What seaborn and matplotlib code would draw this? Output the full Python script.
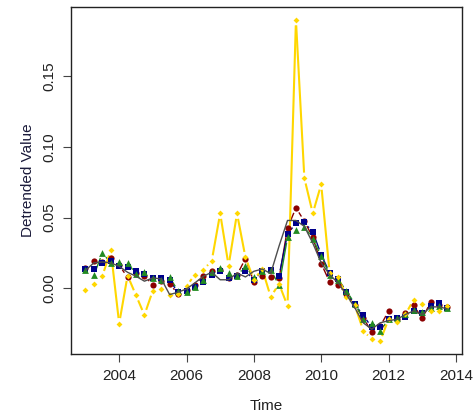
import numpy as np
import pandas as pd
import matplotlib
matplotlib.use("Agg")
import matplotlib.pyplot as plt
from matplotlib.collections import LineCollection
import seaborn as sns

# Quarterly time index, 2003 Q1 .. 2013 Q4
time = np.arange(2003.0, 2014.0, 0.25)

series_yellow = [-0.001, 0.003, 0.0085, 0.027, -0.025, 0.009, -0.005, -0.019, -0.0016, -0.0002,
                 -0.005, -0.004, 0.0015, 0.0097, 0.013, 0.0195, 0.053, 0.016, 0.053, 0.0219,
                 0.006, 0.0136, -0.006, 0.003, -0.0125, 0.19, 0.078, 0.053, 0.0736, 0.011,
                 0.008, -0.006, -0.0122, -0.030, -0.0362, -0.0375, -0.022, -0.024, -0.0185, -0.008,
                 -0.011, -0.0162, -0.016, -0.0125]
series_red = [0.0144, 0.019, 0.0183, 0.0214, 0.0162, 0.0078, 0.011, 0.009, 0.0021, 0.0054,
              0.003, -0.004, -0.001, 0.0025, 0.009, 0.0125, 0.013, 0.0073, 0.0094, 0.021,
              0.0045, 0.0085, 0.0078, 0.007, 0.0426, 0.057, 0.0475, 0.036, 0.0175, 0.0045,
              0.0026, -0.004, -0.012, -0.021, -0.031, -0.027, -0.0162, -0.022, -0.0174, -0.0122,
              -0.0214, -0.0099, -0.012, -0.0135]
series_blue = [0.0137, 0.0134, 0.0178, 0.0195, 0.016, 0.0148, 0.012, 0.0104, 0.0073, 0.0073,
               0.0057, -0.003, -0.0016, 0.001, 0.0042, 0.0092, 0.0125, 0.0076, 0.0085, 0.0121,
               0.0059, 0.012, 0.0127, 0.009, 0.0384, 0.046, 0.0466, 0.040, 0.0238, 0.011,
               0.0066, -0.0025, -0.0115, -0.0193, -0.0275, -0.0275, -0.0221, -0.021, -0.0202, -0.0162,
               -0.0174, -0.0127, -0.0108, -0.0143]
series_green = [0.013, 0.0092, 0.025, 0.018, 0.0186, 0.018, 0.0101, 0.0113, 0.0073, 0.006,
                0.0078, -0.002, -0.0025, 0.001, 0.0055, 0.0115, 0.0144, 0.011, 0.009, 0.0155,
                0.0078, 0.0125, 0.013, 0.0021, 0.036, 0.0414, 0.0437, 0.035, 0.0228, 0.0096,
                0.006, -0.002, -0.011, -0.0216, -0.0244, -0.0303, -0.0221, -0.0214, -0.0179, -0.0155,
                -0.017, -0.014, -0.0125, -0.0143]
series_trend = [0.0127, 0.018, 0.0186, 0.018, 0.0155, 0.0113, 0.0085, 0.005, 0.0073, 0.0066,
                -0.0045, -0.0028, -0.0005, 0.0038, 0.0085, 0.0113, 0.006, 0.006, 0.0108, 0.008,
                0.012, 0.0136, 0.0104, 0.030, 0.048, 0.048, 0.0438, 0.032, 0.018, 0.0096,
                0.0038, -0.0045, -0.0139, -0.0245, -0.029, -0.0245, -0.023, -0.022, -0.0186, -0.016,
                -0.0186, -0.0132, -0.0132, -0.0146]

x_ticks = [2004, 2006, 2008, 2010, 2012, 2014]
y_ticks = [0.00, 0.05, 0.10, 0.15]
y_tick_labels = ["0.00", "0.05", "0.10", "0.15"]

sns.set_theme(style="ticks")
plt.rcParams["font.family"] = ["Liberation Sans", "DejaVu Sans"]

fig = plt.figure(figsize=(4.75, 4.18), dpi=100)
ax = fig.add_axes([0.1495, 0.153, 0.823, 0.830])

# axis ranges padded by 4% like base graphics
all_vals = np.concatenate([series_yellow, series_red, series_blue, series_green, series_trend])
xr = time.max() - time.min()
yr = all_vals.max() - all_vals.min()
ax.set_xlim(time.min() - 0.04 * xr, time.max() + 0.04 * xr)
ax.set_ylim(all_vals.min() - 0.04 * yr, all_vals.max() + 0.04 * yr)

# (values, colour, marker, marker area, line width)
specs = [
    (series_red, "#8B0000", "o", 20, 1.0),
    (series_blue, "#00008B", "s", 17, 1.0),
    (series_green, "#228B22", "^", 24, 1.0),
    (series_yellow, "#FFD700", "D", 9, 1.5),
]

fig.canvas.draw()
to_disp = ax.transData.transform
to_data = ax.transData.inverted().transform
gap_px = 5.5
for vals, col, mk, sz, lw in specs:
    vals = np.asarray(vals)
    pts = to_disp(np.column_stack([time, vals]))
    segs = []
    # connecting lines that stop short of each point
    for a, b in zip(pts[:-1], pts[1:]):
        d = b - a
        length = np.hypot(*d)
        if length <= 2 * gap_px + 1.0:
            continue
        u = d / length
        segs.append(to_data(np.array([a + u * gap_px, b - u * gap_px])))
    ax.add_collection(LineCollection(segs, colors=col, linewidths=lw, zorder=2,
                                     capstyle="butt"))
    df = pd.DataFrame({"Time": time, "value": vals})
    sns.scatterplot(data=df, x="Time", y="value", color=col, marker=mk, s=sz,
                    linewidth=0, ax=ax, zorder=3)

trend_df = pd.DataFrame({"Time": time, "value": series_trend})
sns.lineplot(data=trend_df, x="Time", y="value", color="#4d4d4d", lw=1.0, ax=ax, zorder=4)

for s in ax.spines.values():
    s.set_visible(True)
    s.set_color("#222222")
    s.set_linewidth(1.0)

ax.set_xticks(x_ticks)
ax.set_yticks(y_ticks)
ax.set_yticklabels(y_tick_labels, rotation=90, va="center")
ax.tick_params(axis="both", direction="out", length=5.5, width=0.8, color="#444444",
               labelsize=11, labelcolor="#222222", pad=5)
ax.set_xlabel("Time", fontsize=11, color="#222222", labelpad=12)
ax.set_ylabel("Detrended Value", fontsize=11, color="#1a1a3a", labelpad=5)
ax.grid(False)

fig.savefig("out.png", dpi=100, facecolor="white")
